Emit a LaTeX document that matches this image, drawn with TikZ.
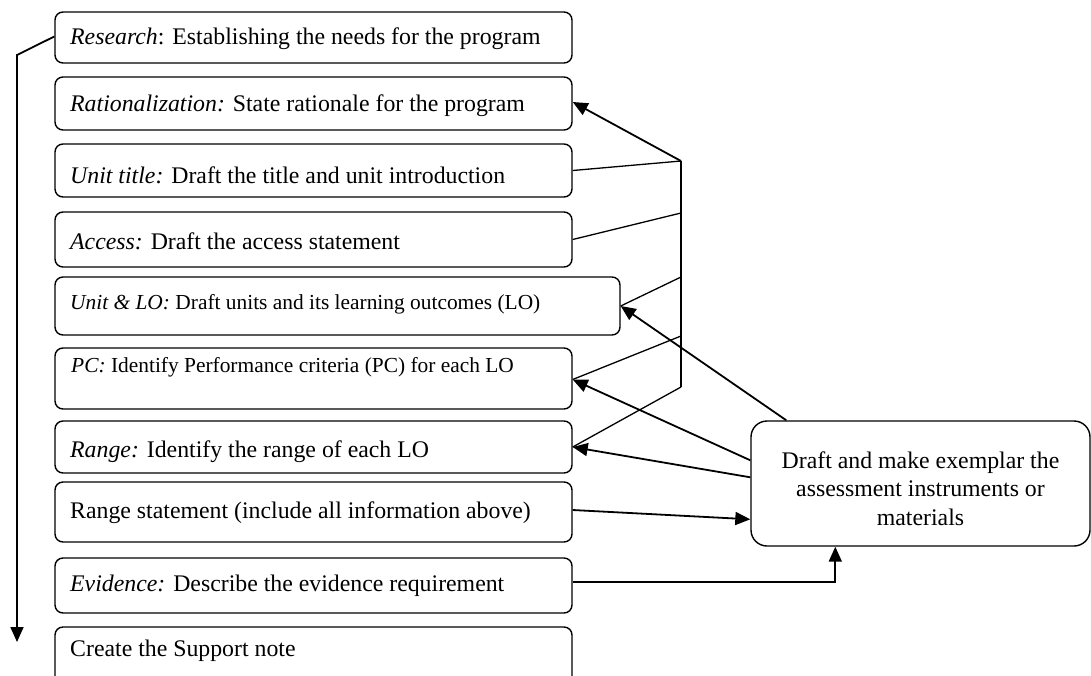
\documentclass[tikz,border=0pt]{standalone}
\usepackage{fontspec}
\setmainfont{Liberation Serif}
\usetikzlibrary{arrows.meta,calc}

\tikzset{
  stage/.style={draw, line width=1.4pt, rounded corners=8pt, inner sep=0pt},
  stagetext/.style={anchor=west, inner sep=0pt, text height=0.7em, text depth=0.22em,
    font=\fontsize{23.8}{28.5}\selectfont},
  smalltext/.style={stagetext, font=\fontsize{21.4}{25}\selectfont},
  maker/.style={draw, line width=1.4pt, rounded corners=16pt, inner sep=0pt,
    align=center, font=\fontsize{23.8}{28.6}\selectfont},
  link/.style={line width=1.3pt},
  feed/.style={line width=1.8pt, -{Triangle[length=15pt,width=13pt]}},
}

\begin{document}
\begin{tikzpicture}[x=1pt, y=-1pt]
\useasboundingbox (0,0) rectangle (1091,675);
\clip (0,0) rectangle (1091,675);

% programme-development stages, top to bottom
\node[stage, minimum width=517pt, minimum height=51pt] (research) at (313.5,37.5) {};
\node[stage, minimum width=517pt, minimum height=53pt] (rational) at (313.5,103.5) {};
\node[stage, minimum width=517pt, minimum height=53pt] (unittitle) at (313.5,170.5) {};
\node[stage, minimum width=517pt, minimum height=55pt] (access) at (313.5,239.5) {};
\node[stage, minimum width=565pt, minimum height=58pt] (unitlo) at (337.5,306) {};
\node[stage, minimum width=517pt, minimum height=61pt] (pc) at (313.5,378.5) {};
\node[stage, minimum width=517pt, minimum height=52pt] (range) at (313.5,447) {};
\node[stage, minimum width=517pt, minimum height=60pt] (rangest) at (313.5,512) {};
\node[stage, minimum width=517pt, minimum height=55pt] (evidence) at (313.5,585.5) {};
\node[stage, minimum width=517pt, minimum height=80pt] (support) at (313.5,667) {};

\node[stagetext] (researchT) at (70,42) {\textit{Research}: Establishing the needs for the program};
\node[stagetext] (rationalT) at (70,109) {\textit{Rationalization:} State rationale for the program};
\node[stagetext] (unittitleT) at (70,181) {\textit{Unit title:} Draft the title and unit introduction};
\node[stagetext] (accessT) at (70,247) {\textit{Access:} Draft the access statement};
\node[smalltext] (unitloT) at (70,307) {\textit{Unit \& LO:} Draft units and its learning outcomes (LO)};
\node[smalltext] (pcT) at (71,370) {\textit{PC:} Identify Performance criteria (PC) for each LO};
\node[stagetext] (rangeT) at (70,455) {\textit{Range:} Identify the range of each LO};
\node[stagetext] (rangestT) at (70,516) {Range statement (include all information above)};
\node[stagetext] (evidenceT) at (70,589) {\textit{Evidence:} Describe the evidence requirement};
\node[stagetext] (supportT) at (70,654) {Create the Support note};

% assessment-material box (strut on the first line sets the text a little low)
\node[maker, minimum width=339pt, minimum height=125pt] (draft) at (920.5,483.5)
  {\rule{0pt}{27pt}Draft and make exemplar the\\assessment instruments or\\materials};

% sequence arrow on the left
\coordinate (seqA) at (17,55);
\coordinate (seqB) at (17,642);
\draw[feed] ([yshift=1pt]research.west) -- (seqA) -- (seqB);

% collector bar on the right
\coordinate (bar1) at (681,161);
\coordinate (bar2) at (681,213);
\coordinate (bar3) at (681,277);
\coordinate (bar4) at (681,336);
\coordinate (bar5) at (681,387);
\draw[link] (bar1) -- (bar5);
\draw[feed] (bar1) -- ([yshift=1.5pt]rational.east);
\draw[link] (bar1) -- (unittitle.east);
\draw[link] (bar2) -- (access.east);
\draw[link] (bar3) -- (unitlo.east);
\draw[link] (bar4) -- ([yshift=-1pt]pc.east);
\draw[link] (bar5) -- (range.east);

% feedback from the assessment-material box
\draw[feed] ($(draft.north west)+(36,0)$) -- (unitlo.east);
\draw[feed] ($(draft.north west)+(0,40)$) -- ([yshift=-1pt]pc.east);
\draw[feed] ($(draft.north west)+(0,57)$) -- (range.east);
\draw[feed] ([yshift=2pt]rangest.east) -- ($(draft.north west)+(0,99)$);
\draw[feed] ([yshift=3.5pt]evidence.east) -| ($(draft.south west)+(85,0)$);
\end{tikzpicture}
\end{document}
